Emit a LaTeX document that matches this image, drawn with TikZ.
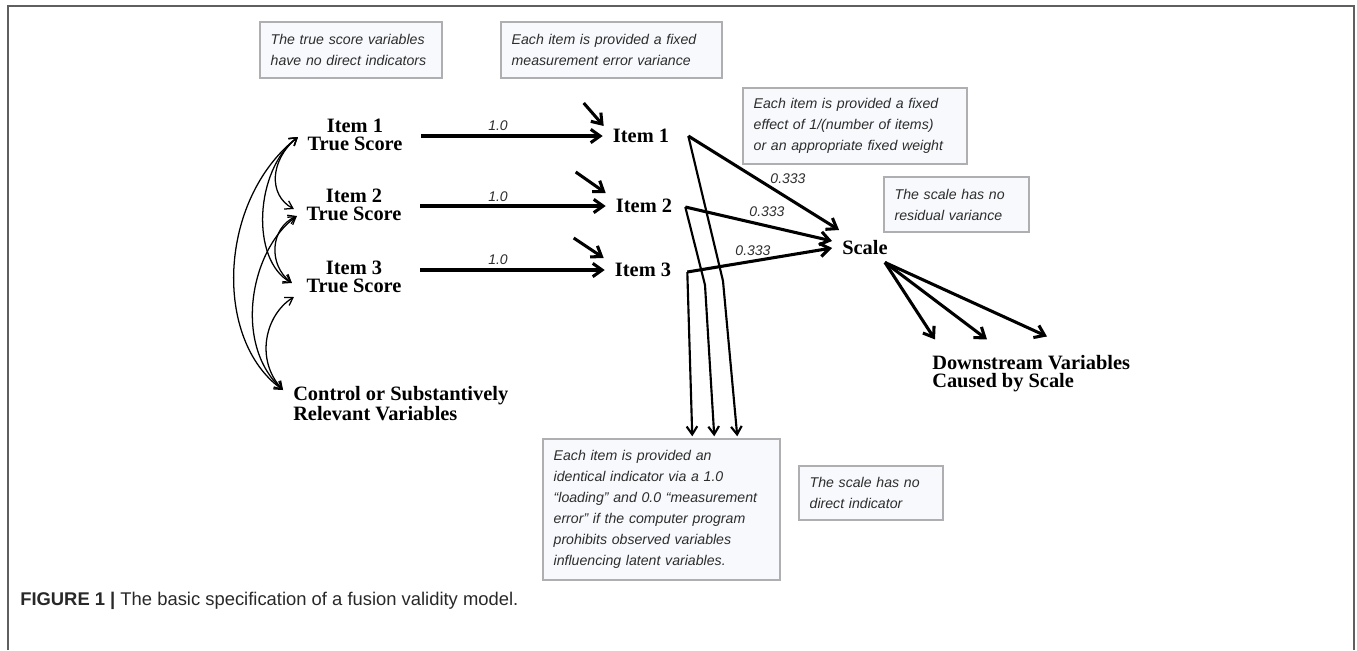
\documentclass[tikz,border=0pt]{standalone}
\usepackage{fontspec}
\setmainfont{Liberation Serif}
\setsansfont{Liberation Sans}
\usetikzlibrary{arrows.meta,calc}
\definecolor{notefill}{RGB}{248,249,252}
\definecolor{noteline}{RGB}{175,175,178}
\definecolor{notetext}{RGB}{45,45,45}
\definecolor{framec}{RGB}{95,95,95}
\definecolor{captext}{RGB}{40,40,40}
\begin{document}
\begin{tikzpicture}[x=0.75pt,y=-0.75pt,
  var/.style={font=\fontsize{15.3}{13.5}\selectfont\bfseries, align=center, inner ysep=0pt, inner xsep=7pt},
  itemvar/.style={font=\fontsize{15.3}{13.5}\selectfont\bfseries, inner ysep=0pt, inner xsep=7.5pt},
  leftvar/.style={font=\fontsize{15.3}{13.5}\selectfont\bfseries, align=left, inner sep=0pt, anchor=west},
  note/.style={draw=noteline, line width=1.1pt, fill=notefill, text=notetext,
    font=\sffamily\itshape\fontsize{10.6}{15.75}\selectfont, align=left, inner xsep=8pt, inner ysep=0pt},
  lab/.style={font=\sffamily\itshape\fontsize{10.5}{12}\selectfont, text=notetext, inner sep=0pt},
  bigarrow/.style={line width=2.3pt, -{Straight Barb[length=7pt,width=10pt]}},
  midarrow/.style={line width=1.6pt, -{Straight Barb[length=6pt,width=8pt]}},
  covar/.style={line width=0.95pt, {Straight Barb[length=5.5pt,width=7pt]}-{Straight Barb[length=5.5pt,width=7pt]}}
]
\useasboundingbox (0,0) rectangle (1357,650);
% frame
\draw[framec, line width=1.5pt] (8,650) -- (8,6) -- (1354,6) -- (1354,650);

% notes
\node[note, text width=120.5pt, minimum height=42pt] (n1) at (351,50)
  {The true score variables\\have no direct indicators};
\node[note, text width=149.75pt, minimum height=42pt] (n2) at (611.5,50)
  {Each item is provided a fixed\\measurement error variance};
\node[note, text width=152pt, minimum height=57pt] (n3) at (855,126)
  {Each item is provided a fixed\\effect of 1/(number of items)\\or an appropriate fixed weight};
\node[note, text width=92.75pt, minimum height=41.25pt] (n4) at (956.5,204.5)
  {The scale has no\\residual variance};
\node[note, text width=161.75pt, minimum height=105.75pt] (n5) at (661.5,509.5)
  {Each item is provided an\\identical indicator via a 1.0\\“loading” and 0.0 “measurement\\error” if the computer program\\prohibits observed variables\\influencing latent variables.};
\node[note, text width=92pt, minimum height=40.5pt] (n6) at (871,493)
  {The scale has no\\direct indicator};

% variables
\node[var] (ts1) at (355,135) {Item 1\\True Score};
\node[var] (ts2) at (354,205) {Item 2\\True Score};
\node[var] (ts3) at (354,277) {Item 3\\True Score};
\node[leftvar] (ctrl) at (293,404) {Control or Substantively\\Relevant Variables};
\node[itemvar] (it1) at (641,136) {Item 1};
\node[itemvar] (it2) at (644,206) {Item 2};
\node[itemvar] (it3) at (643,270) {Item 3};
\node[font=\fontsize{15.3}{13.5}\selectfont\bfseries, inner sep=0pt] (scale) at (865,248) {Scale};
\node[leftvar] (down) at (932,374) {Downstream Variables\\Caused by Scale};

% loadings 1.0
\draw[bigarrow, shorten <=7pt] (ts1.east |- it1) -- (it1.west);
\draw[bigarrow, shorten <=7pt] (ts2.east |- it2) -- (it2.west);
\draw[bigarrow, shorten <=7pt] (ts3.east |- it3) -- (it3.west);
\node[lab] (l1) at (498,126) {1.0};
\node[lab] (l2) at (498,197) {1.0};
\node[lab] (l3) at (498,260) {1.0};

% error arrows
\coordinate (e1) at ($(it1.west)+(-19,-33)$);
\coordinate (e2) at ($(it2.west)+(-30,-34)$);
\coordinate (e3) at ($(it3.west)+(-31,-32)$);
\draw[bigarrow] (e1) -- ($(it1.west)+(1,-10)$);
\draw[bigarrow] (e2) -- ($(it2.west)+(0,-13)$);
\draw[bigarrow] (e3) -- ($(it3.west)+(-1,-12)$);

% ports
\coordinate (p1) at ($(it1.east)+(9,0)$);
\coordinate (p2) at ($(it2.east)+(3,1)$);
\coordinate (p3) at ($(it3.east)+(6,2)$);

% weights to scale
\draw[bigarrow] (p1) -- ($(scale.west)+(-3,-18)$);
\draw[bigarrow] (p2) -- ($(scale.west)+(-10,-7)$);
\draw[bigarrow] (p3) -- ($(scale.west)+(-10,0)$);
\node[lab] (w1) at (788,179) {0.333};
\node[lab] (w2) at (767,212) {0.333};
\node[lab] (w3) at (753,251) {0.333};

% identical indicators
\coordinate (k1) at (723,281);
\coordinate (k2) at (705,285);
\draw[midarrow, line join=round] (p1) -- (k1) -- ($(n5.north west)+(195,-2)$);
\draw[midarrow, line join=round] (p2) -- (k2) -- ($(n5.north west)+(172,-2)$);
\draw[midarrow] (p3) -- ($(n5.north west)+(150,-2)$);

% downstream
\coordinate (s0) at ($(scale.south east)+(-3,7)$);
\draw[bigarrow] (s0) -- ($(down.north west)+(3,-16)$);
\draw[bigarrow] (s0) -- ($(down.north west)+(55,-16)$);
\draw[bigarrow] (s0) -- ($(down.north west)+(115,-19)$);

% covariances
\coordinate (a1) at ($(ts1.west)+(0,2)$);
\coordinate (a2u) at ($(ts2.west)+(-3,4)$);
\coordinate (a2l) at ($(ts2.west)+(0,11)$);
\coordinate (a3u) at ($(ts3.west)+(-5,6)$);
\coordinate (a3l) at ($(ts3.west)+(-3,20)$);
\coordinate (a4) at ($(ctrl.west)+(-10,-14)$);
\draw[covar] (a1) .. controls (270,160) and (268,195) .. (a2u);
\draw[covar] (a1) .. controls (255,170) and (250,260) .. (a3u);
\draw[covar] (a1) .. controls (218,200) and (213,340) .. (a4);
\draw[covar] (a2l) .. controls (270,228) and (268,265) .. (a3u);
\draw[covar] (a2l) .. controls (250,250) and (233,345) .. (a4);
\draw[covar] (a3l) .. controls (265,315) and (255,360) .. (a4);

% caption
\node[anchor=west, inner sep=0pt, text=captext, font=\sffamily\fontsize{13.8}{16}\selectfont] (cap) at (20,601)
  {\textbf{FIGURE 1 |} The basic specification of a fusion validity model.};
\end{tikzpicture}
\end{document}
